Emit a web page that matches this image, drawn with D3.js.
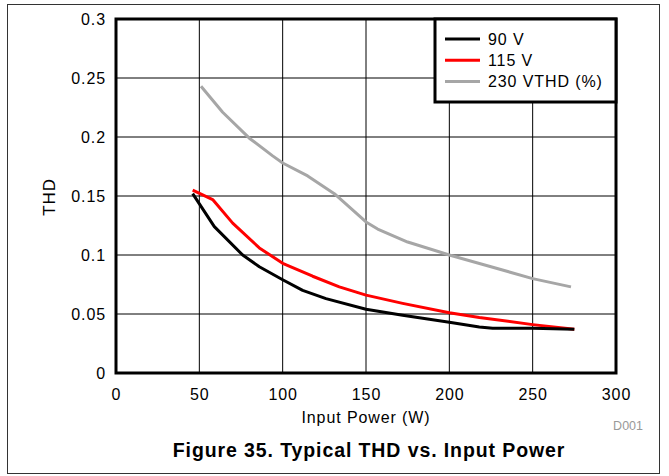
<!DOCTYPE html>
<html>
<head>
<meta charset="utf-8">
<script src="https://cdn.jsdelivr.net/npm/d3@7"></script>
<style>
  body { margin: 0; background: #fff; }
  text { font-family: Arial, "Liberation Sans", sans-serif; }
</style>
</head>
<body>
<svg width="669" height="476"></svg>
<script>
// THD vs input power
var power90 = [46, 59, 76, 86, 100, 112, 126, 150, 172, 200, 218, 226, 250, 275];
var thd90   = [0.152, 0.124, 0.100, 0.090, 0.079, 0.070, 0.063, 0.054, 0.049, 0.043, 0.039, 0.038, 0.038, 0.037];

var power115 = [46, 58, 70, 86, 100, 118, 134, 150, 172, 200, 218, 250, 275];
var thd115   = [0.155, 0.147, 0.127, 0.106, 0.093, 0.082, 0.073, 0.066, 0.059, 0.051, 0.047, 0.041, 0.037];

var power230 = [51, 64, 80, 94, 100, 115, 131, 150, 157, 175, 200, 225, 250, 273];
var thd230   = [0.243, 0.221, 0.199, 0.184, 0.178, 0.167, 0.152, 0.128, 0.122, 0.111, 0.100, 0.090, 0.080, 0.073];

var seriesNames = ["90 V", "115 V", "230 VTHD (%)"];
var seriesColors = ["#000000", "#ff0000", "#a6a6a6"];

var xTicks = [0, 50, 100, 150, 200, 250, 300];
var yTicks = [0, 0.05, 0.1, 0.15, 0.2, 0.25, 0.3];

var svg = d3.select("svg");

var marginLeft = 116, marginTop = 19, width = 500, height = 354;

var x = d3.scaleLinear().domain([0, 300]).range([0, width]);
var y = d3.scaleLinear().domain([0, 0.3]).range([height, 0]);

// outer frame
svg.append("rect")
    .attr("x", 7.5).attr("y", 4.5)
    .attr("width", 652).attr("height", 469)
    .attr("fill", "none")
    .attr("stroke", "#333")
    .attr("stroke-width", 1);

var g = svg.append("g")
    .attr("transform", "translate(" + marginLeft + "," + marginTop + ")");

// grid
g.selectAll(".vgrid")
    .data(xTicks)
    .enter().append("line")
    .attr("x1", function(d) { return x(d); })
    .attr("x2", function(d) { return x(d); })
    .attr("y1", 0).attr("y2", height)
    .attr("stroke", "#000").attr("stroke-width", 1);

g.selectAll(".hgrid")
    .data(yTicks)
    .enter().append("line")
    .attr("x1", 0).attr("x2", width)
    .attr("y1", function(d) { return y(d); })
    .attr("y2", function(d) { return y(d); })
    .attr("stroke", "#000").attr("stroke-width", 1);

// axes (labels only)
var xAxis = g.append("g")
    .attr("transform", "translate(0," + height + ")")
    .call(d3.axisBottom(x).tickValues(xTicks).tickSize(0).tickPadding(16)
        .tickFormat(d3.format("d")));
var yAxis = g.append("g")
    .call(d3.axisLeft(y).tickValues(yTicks).tickSize(0).tickPadding(10)
        .tickFormat(function(d) { return String(+d.toFixed(2)); }));

[xAxis, yAxis].forEach(function(a) {
    a.select(".domain").remove();
    a.selectAll("text")
        .attr("fill", "#000")
        .style("font-size", "16px")
        .style("letter-spacing", "0.9px")
        .style("font-family", "Arial, 'Liberation Sans', sans-serif");
});

// lines
var line = d3.line()
    .x(function(d) { return x(d[0]); })
    .y(function(d) { return y(d[1]); });

var series = [
    d3.zip(power90, thd90),
    d3.zip(power115, thd115),
    d3.zip(power230, thd230)
];

// draw gray first, then red, then black on top
[2, 1, 0].forEach(function(i) {
    g.append("path")
        .datum(series[i])
        .attr("d", line)
        .attr("fill", "none")
        .attr("stroke", seriesColors[i])
        .attr("stroke-width", 3)
        .attr("stroke-linejoin", "round");
});

// plot border
g.append("rect")
    .attr("x", 0).attr("y", 0)
    .attr("width", width).attr("height", height)
    .attr("fill", "none")
    .attr("stroke", "#000")
    .attr("stroke-width", 3);

// legend
var legendLeft = 435 - marginLeft;
var legend = g.append("g").attr("transform", "translate(" + legendLeft + ",0)");
legend.append("rect")
    .attr("x", 0).attr("y", 0)
    .attr("width", width - legendLeft).attr("height", 83)
    .attr("fill", "#fff")
    .attr("stroke", "#000")
    .attr("stroke-width", 3);

var item = legend.selectAll(".item")
    .data(seriesNames)
    .enter().append("g")
    .attr("transform", function(d, i) { return "translate(0," + (20 + i * 21.3) + ")"; });
item.append("line")
    .attr("x1", 10).attr("x2", 45)
    .attr("stroke", function(d, i) { return seriesColors[i]; })
    .attr("stroke-width", 3);
item.append("text")
    .attr("x", 53)
    .attr("dy", "0.36em")
    .style("font-size", "16px")
    .style("letter-spacing", "0.9px")
    .text(function(d) { return d; });

// axis titles
svg.append("text")
    .attr("x", marginLeft + width / 2)
    .attr("y", 423)
    .attr("text-anchor", "middle")
    .style("font-size", "16px")
    .style("letter-spacing", "0.9px")
    .text("Input Power (W)");

svg.append("text")
    .attr("transform", "translate(55," + (marginTop + height / 2 + 1) + ") rotate(-90)")
    .attr("text-anchor", "middle")
    .style("font-size", "17px")
    .style("letter-spacing", "0.9px")
    .text("THD");

svg.append("text")
    .attr("x", 643)
    .attr("y", 430)
    .attr("text-anchor", "end")
    .attr("fill", "#999")
    .style("font-size", "12.5px")
    .text("D001");

svg.append("text")
    .attr("x", 369)
    .attr("y", 457)
    .attr("text-anchor", "middle")
    .style("font-size", "19.5px")
    .style("font-weight", "bold")
    .style("letter-spacing", "0.9px")
    .text("Figure 35. Typical THD vs. Input Power");
</script>
</body>
</html>
